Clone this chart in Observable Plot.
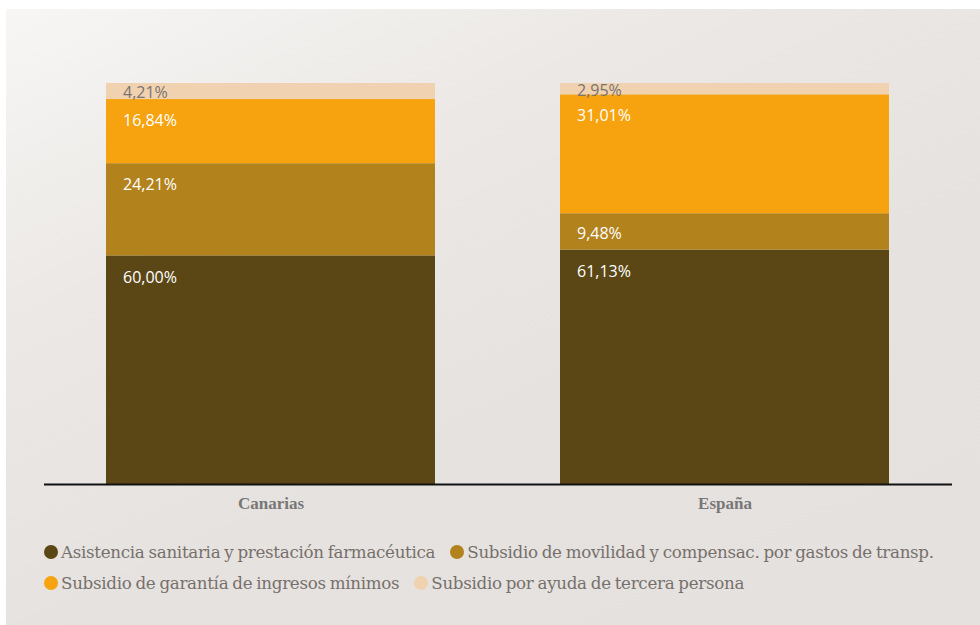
<!DOCTYPE html>
<html>
<head>
<meta charset="utf-8">
<script src="https://cdn.jsdelivr.net/npm/d3@7"></script>
<script src="https://cdn.jsdelivr.net/npm/@observablehq/plot@0.6"></script>
<style>
  html, body { margin: 0; padding: 0; background: #ffffff; width: 980px; height: 625px; overflow: hidden; }
  #panel { position: absolute; left: 6px; top: 9px; width: 974px; height: 616px;
    background: linear-gradient(155deg, #f7f6f4 0%, #ebe8e5 30%, #e6e2df 60%, #e5e1de 100%); }
  #chart { position: absolute; left: 0; top: 0; }
  #legend { position: absolute; left: 44px; top: 536px; width: 930px;
    font-family: "DejaVu Serif", serif; font-size: 16.7px; color: #76706c;
    letter-spacing: -0.3px; word-spacing: -1px; }
  .row { display: flex; align-items: center; height: 31px; white-space: nowrap; }
  .item { display: flex; align-items: center; margin-right: 15px; }
  .dot { width: 14px; height: 14px; border-radius: 50%; margin-right: 3px; flex: none; }
</style>
</head>
<body>
<div id="panel"></div>
<div id="chart"></div>
<div id="legend"></div>
<script>
const categories = ["Canarias", "España"];
const series = [
  "Asistencia sanitaria y prestación farmacéutica",
  "Subsidio de movilidad y compensac. por gastos de transp.",
  "Subsidio de garantía de ingresos mínimos",
  "Subsidio por ayuda de tercera persona"
];
const colors = ["#5b4716", "#b2821c", "#f6a30f", "#f0d2b0"];
const labelColors = ["#ffffff", "#ffffff", "#ffffff", "#7a736f"];
const canarias = [60.00, 24.21, 16.84, 4.21];
const espana = [61.13, 9.48, 31.01, 2.95];
const valuesByCategory = [canarias, espana];
const legendRows = [[0, 1], [2, 3]];

// build stacked (normalized) table
const rows = [];
categories.forEach((cat, ci) => {
  const vals = valuesByCategory[ci];
  const total = d3.sum(vals);
  let acc = 0;
  vals.forEach((v, si) => {
    const y1 = acc / total;
    acc += v;
    const y2 = acc / total;
    rows.push({category: cat, series: series[si], si, value: v, y1, y2,
      labelY: Math.max(y2 - 0.05, (y1 + y2) / 2),
      label: v.toFixed(2).replace(".", ",") + "%"});
  });
});

const chart = Plot.plot({
  width: 980,
  height: 530,
  marginTop: 83,
  marginBottom: 46,
  marginLeft: 44,
  marginRight: 28,
  style: {background: "transparent", overflow: "visible"},
  x: {domain: categories, paddingInner: 0.275, paddingOuter: 0.1375, label: null},
  y: {domain: [0, 1], axis: null},
  color: {domain: series, range: colors},
  marks: [
    Plot.barY(rows, {x: "category", y1: "y1", y2: "y2", fill: "series"}),
    Plot.text(rows, {x: "category", y: "labelY", text: "label",
      fill: d => labelColors[d.si], textAnchor: "start",
      dx: -148, dy: 1.5, fontSize: 16, fontFamily: "Open Sans", lineAnchor: "middle"}),
    Plot.ruleY([0], {stroke: "#111", strokeWidth: 2}),
    Plot.axisX({tickSize: 0, tickPadding: 12, fontSize: 17, fontWeight: "bold",
      fontFamily: "Liberation Serif", fill: "#777", label: null})
  ]
});
document.getElementById("chart").appendChild(chart);

const legend = document.getElementById("legend");
legendRows.forEach(r => {
  const row = document.createElement("div");
  row.className = "row";
  r.forEach(i => {
    const item = document.createElement("div");
    item.className = "item";
    const dot = document.createElement("span");
    dot.className = "dot";
    dot.style.background = colors[i];
    const t = document.createElement("span");
    t.textContent = series[i];
    item.appendChild(dot);
    item.appendChild(t);
    row.appendChild(item);
  });
  legend.appendChild(row);
});
</script>
</body>
</html>
